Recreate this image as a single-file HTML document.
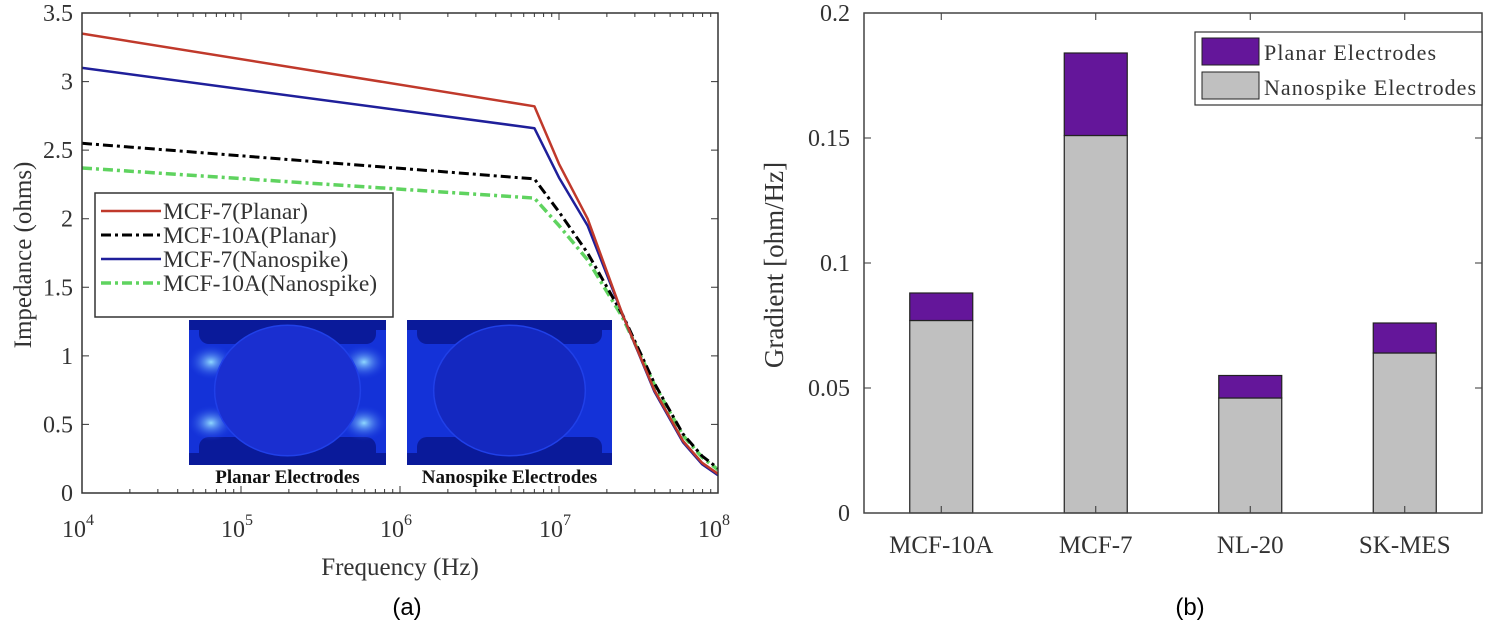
<!DOCTYPE html>
<html><head><meta charset="utf-8"><style>
html,body{margin:0;padding:0;background:#fff;}
svg{display:block;}
text{font-family:"Liberation Serif",serif;fill:#333;}
.cap{font-family:"Liberation Sans",sans-serif;fill:#000;}
</style></head><body>
<svg id="svg" width="1499" height="632" viewBox="0 0 1499 632">
<defs>
<radialGradient id="glow" cx="0.5" cy="0.5" r="0.5"><stop offset="0" stop-color="#8fd8ff"/><stop offset="1" stop-color="#1030e0" stop-opacity="0"/></radialGradient>
<clipPath id="clipA"><rect x="82" y="13" width="636" height="480"/></clipPath>
<clipPath id="clipI1"><rect x="189" y="320" width="197" height="145"/></clipPath>
<clipPath id="clipI2"><rect x="407" y="320" width="205" height="145"/></clipPath>
</defs>
<g id="chartA"></g>
<g id="chartB"></g>
<text class="cap" x="407" y="615" font-size="24" text-anchor="middle">(a)</text>
<text class="cap" x="1190" y="615" font-size="24" text-anchor="middle">(b)</text>
</svg>
<script>
// ---- Chart A data ----
const freqLog = [4, 6.845, 7.0, 7.18, 7.4, 7.6, 7.78, 7.9, 8.0];
const mcf7Planar = [3.35, 2.82, 2.4, 2.0, 1.3, 0.75, 0.38, 0.22, 0.14];
const mcf10aPlanar = [2.55, 2.29, 2.05, 1.75, 1.3, 0.8, 0.43, 0.27, 0.18];
const mcf7Nano = [3.1, 2.66, 2.3, 1.95, 1.3, 0.74, 0.37, 0.21, 0.13];
const mcf10aNano = [2.37, 2.15, 1.95, 1.7, 1.28, 0.79, 0.42, 0.26, 0.17];
const yTicksA = [0, 0.5, 1, 1.5, 2, 2.5, 3, 3.5];
const yTickLabelsA = ["0", "0.5", "1", "1.5", "2", "2.5", "3", "3.5"];
const xTicksA = [4, 5, 6, 7, 8];
// ---- Chart B data ----
const categories = ["MCF-10A", "MCF-7", "NL-20", "SK-MES"];
const nanospike = [0.077, 0.151, 0.046, 0.064];
const planarTotal = [0.088, 0.184, 0.055, 0.076];
const yTicksB = [0, 0.05, 0.1, 0.15, 0.2];
const yTickLabelsB = ["0", "0.05", "0.1", "0.15", "0.2"];

const NS = "http://www.w3.org/2000/svg";
function mk(parent, tag, attrs, txt) {
  const e = document.createElementNS(NS, tag);
  for (const k in attrs) e.setAttribute(k, attrs[k]);
  if (txt !== undefined) e.textContent = txt;
  parent.appendChild(e);
  return e;
}
// Chart A axes
const AL = 82, AR = 718, AT = 13, AB = 493;
const xA = v => AL + (v - 4) / 4 * (AR - AL);
const yA = v => AB - v / 3.5 * (AB - AT);
const gA = document.getElementById('chartA');

yTicksA.forEach((t, i) => {
  const y = yA(t);
  const l = mk(gA, 'path', {d: `M${AL} ${y}h7M${AR} ${y}h-7`, stroke: '#333', 'stroke-width': 1});
  
  
  const tx = mk(gA, 'text', {x: AL - 9, y: y + 8, 'font-size': 24, 'text-anchor': 'end'}, yTickLabelsA[i]);
  
  
});
xTicksA.forEach(t => {
  const x = xA(t);
  const l = mk(gA, 'path', {d: `M${x} ${AB}v-7M${x} ${AT}v7`, stroke: '#333', 'stroke-width': 1});
  
  
  for (let m = 2; m <= 9 && t < 8; m++) {
    const xm = xA(t + Math.log10(m));
    const mm = mk(gA, 'path', {d: `M${xm} ${AB}v-4M${xm} ${AT}v4`, stroke: '#333', 'stroke-width': 1});
    
    
  }
  const tx = mk(gA, 'text', {x: x - 4, y: 537, 'font-size': 24, 'text-anchor': 'middle'});
  
  
  mk(tx, 'tspan', {}, '10');
  mk(tx, 'tspan', {dy: -12, 'font-size': 16}, String(t));
});

// insets
function inset(x, w, strong, name, label, clip) {
  const g = mk(gA, 'g', {'clip-path': clip});
  
  
  const y = 320, h = 145;
  mk(g, 'rect', {x, y, width: w, height: h, fill: '#1432d8'});
  mk(g, 'rect', {x: x + 10, y, width: w - 20, height: 24, rx: 10, fill: '#0a1a9a'});
  mk(g, 'rect', {x: x + 10, y: y + h - 28, width: w - 20, height: 28, rx: 10, fill: '#0a1a9a'});
  mk(g, 'rect', {x, y, width: w, height: 10, fill: '#0a1a9a'});
  mk(g, 'rect', {x, y: y + h - 12, width: w, height: 12, fill: '#0a1a9a'});
  if (strong) {
    [[x + 22, y + 42], [x + w - 22, y + 42], [x + 22, y + h - 42], [x + w - 22, y + h - 42]].forEach(p => mk(g, 'ellipse', {cx: p[0], cy: p[1], rx: 24, ry: 18, fill: 'url(#glow)'}));
  }
  mk(g, 'ellipse', {cx: x + w / 2, cy: y + h / 2 - 2, rx: w * 0.37, ry: h * 0.45, fill: strong ? '#1a2fd0' : '#1428c0', stroke: '#2040e8', 'stroke-width': 1.5});
  const t = mk(gA, 'text', {x: x + w / 2, y: 483, 'font-size': 19, 'font-weight': 'bold', 'text-anchor': 'middle', style: 'fill:#111'}, label);
  
  
}
inset(189, 197, true, 'planar-inset', 'Planar Electrodes', 'url(#clipI1)');
inset(407, 205, false, 'nanospike-inset', 'Nanospike Electrodes', 'url(#clipI2)');

// series
const series = [
  {d: mcf10aNano, c: '#5fd35f', dash: '10 4 3 4', w: 3.5, name: 'series-mcf10a-nanospike', label: 'MCF-10A(Nanospike)'},
  {d: mcf10aPlanar, c: '#000', dash: '10 4 3 4', w: 3, name: 'series-mcf10a-planar', label: 'MCF-10A(Planar)'},
  {d: mcf7Nano, c: '#1f1f9a', dash: '', w: 2.5, name: 'series-mcf7-nanospike', label: 'MCF-7(Nanospike)'},
  {d: mcf7Planar, c: '#c0392b', dash: '', w: 2.5, name: 'series-mcf7-planar', label: 'MCF-7(Planar)'}
];
const gl = mk(gA, 'g', {'clip-path': 'url(#clipA)'});
series.forEach(s => {
  const pts = s.d.map((v, i) => `${xA(freqLog[i]).toFixed(1)},${yA(v).toFixed(1)}`).join(' L');
  const p = mk(gl, 'path', {d: 'M' + pts, fill: 'none', stroke: s.c, 'stroke-width': s.w, 'stroke-dasharray': s.dash, 'stroke-linejoin': 'round'});
  
  
});
const frA = mk(gA, 'rect', {x: AL, y: AT, width: AR - AL, height: AB - AT, fill: 'none', stroke: '#333', 'stroke-width': 1.5});



// legend A
const lgA = mk(gA, 'g', {});


mk(lgA, 'rect', {x: 95, y: 193, width: 298, height: 124, fill: '#fff', stroke: '#333', 'stroke-width': 1.5});
[3, 1, 2, 0].forEach((si, k) => {
  const s = series[si];
  const y = 211 + k * 24;
  const ln = mk(lgA, 'path', {d: `M101 ${y}h60`, stroke: s.c, 'stroke-width': s.w, 'stroke-dasharray': s.dash});
  
  
  const t = mk(lgA, 'text', {x: 163, y: y + 8, 'font-size': 23.5}, s.label);
  
  
});
const yt = mk(gA, 'text', {x: 31, y: 255, 'font-size': 25, 'text-anchor': 'middle', transform: 'rotate(-90 31 255)'}, 'Impedance (ohms)');


const xt = mk(gA, 'text', {x: 400, y: 575, 'font-size': 25, 'text-anchor': 'middle'}, 'Frequency (Hz)');



// Chart B
const BL = 864, BR = 1482, BT = 13, BB = 513;
const gB = document.getElementById('chartB');
const yB = v => BB - v / 0.2 * (BB - BT);
const xB = i => BL + (i + 0.5) * (BR - BL) / categories.length;
const bw = 63;
yTicksB.forEach((t, i) => {
  const y = yB(t);
  const l = mk(gB, 'path', {d: `M${BL} ${y}h7M${BR} ${y}h-7`, stroke: '#333', 'stroke-width': 1});
  
  
  const tx = mk(gB, 'text', {x: BL - 14, y: y + 8, 'font-size': 24, 'text-anchor': 'end'}, yTickLabelsB[i]);
  
  
});
categories.forEach((c, i) => {
  const x = xB(i);
  const r1 = mk(gB, 'rect', {x: x - bw / 2, y: yB(nanospike[i]), width: bw, height: yB(0) - yB(nanospike[i]), fill: '#c0c0c0', stroke: '#222', 'stroke-width': 1.2});
  
  
  const r2 = mk(gB, 'rect', {x: x - bw / 2, y: yB(planarTotal[i]), width: bw, height: yB(nanospike[i]) - yB(planarTotal[i]), fill: '#64169a', stroke: '#222', 'stroke-width': 1.2});
  
  
  const tk = mk(gB, 'path', {d: `M${x} ${BB}v-7M${x} ${BT}v7`, stroke: '#333', 'stroke-width': 1});
  
  
  const tx = mk(gB, 'text', {x, y: 553, 'font-size': 25, 'text-anchor': 'middle'}, c);
  
  
});
const frB = mk(gB, 'rect', {x: BL, y: BT, width: BR - BL, height: BB - BT, fill: 'none', stroke: '#444', 'stroke-width': 1.5});


const lgB = mk(gB, 'g', {});


mk(lgB, 'rect', {x: 1195, y: 32, width: 287, height: 73, fill: '#fff', stroke: '#333', 'stroke-width': 1.2});
const lp1 = mk(lgB, 'rect', {x: 1202, y: 38, width: 57, height: 27, fill: '#64169a', stroke: '#222'});


const lp2 = mk(lgB, 'rect', {x: 1202, y: 72, width: 57, height: 27, fill: '#c0c0c0', stroke: '#222'});


const lt1 = mk(lgB, 'text', {x: 1264, y: 60, 'font-size': 22, textLength: 172}, 'Planar Electrodes');


const lt2 = mk(lgB, 'text', {x: 1264, y: 95, 'font-size': 22, textLength: 212}, 'Nanospike Electrodes');


const ytB = mk(gB, 'text', {x: 783, y: 265, 'font-size': 27, 'text-anchor': 'middle', transform: 'rotate(-90 783 265)'}, 'Gradient [ohm/Hz]');


</script>
</body></html>
